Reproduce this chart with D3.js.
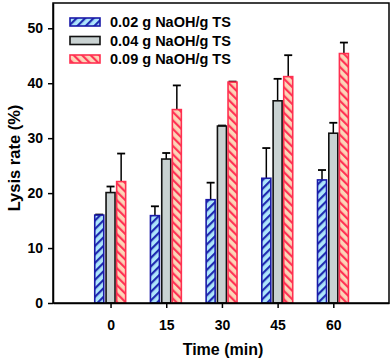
<!DOCTYPE html>
<html>
<head>
<meta charset="utf-8">
<script src="https://cdn.jsdelivr.net/npm/d3@7"></script>
<style>
  body { margin: 0; background: #fff; }
  svg text { font-family: Arial, "Liberation Sans", sans-serif; font-weight: bold; }
</style>
</head>
<body>
<svg id="chart"></svg>
<script>
// data
const times = [0, 15, 30, 45, 60];
const seriesNames = ["0.02 g NaOH/g TS", "0.04 g NaOH/g TS", "0.09 g NaOH/g TS"];
const low = [16.0, 15.9, 18.8, 22.7, 22.4];
const lowErr = [0.1, 1.7, 3.1, 5.5, 1.8];
const mid = [20.1, 26.2, 32.2, 36.8, 30.9];
const midErr = [1.1, 1.1, 0.1, 4.0, 1.9];
const high = [22.1, 35.2, 40.2, 41.2, 45.4];
const highErr = [5.1, 4.4, 0.1, 3.9, 2.0];
const yTicks = [0, 10, 20, 30, 40, 50];

let width = 392, height = 362;
let padding = { top: 3, right: 3, bottom: 59, left: 53 };

let svg = d3.select("#chart")
    .attr("width", width)
    .attr("height", height);

let defs = svg.append("defs");

// striped fills
let pBlue = defs.append("pattern")
    .attr("id", "hatchBlue")
    .attr("patternUnits", "userSpaceOnUse")
    .attr("width", 6).attr("height", 6)
    .attr("patternTransform", "rotate(45)");
pBlue.append("rect").attr("width", 6).attr("height", 6).attr("fill", "#aee6fb");
pBlue.append("rect").attr("width", 2.2).attr("height", 6).attr("fill", "#1f2bb0");

let pRed = defs.append("pattern")
    .attr("id", "hatchRed")
    .attr("patternUnits", "userSpaceOnUse")
    .attr("width", 6).attr("height", 6)
    .attr("patternTransform", "rotate(-45)");
pRed.append("rect").attr("width", 6).attr("height", 6).attr("fill", "#fcd6b8");
pRed.append("rect").attr("width", 2.2).attr("height", 6).attr("fill", "#ff3355");

let styles = [
    { fill: "url(#hatchBlue)", stroke: "#1a1aa8" },
    { fill: "#c9d2d2", stroke: "#111" },
    { fill: "url(#hatchRed)", stroke: "#ff3050" }
];

let xScale = d3.scaleLinear()
    .domain([-15.5, 75])
    .range([padding.left, width - padding.right]);
let yScale = d3.scaleLinear()
    .domain([0, 54.6])
    .range([height - padding.bottom, padding.top]);

let barWidth = 9;
let offsets = [-11.3, 0, 10.6];

let data = [];
times.forEach((t, i) => {
    data.push({ t: t, s: 0, v: low[i], e: lowErr[i] });
    data.push({ t: t, s: 1, v: mid[i], e: midErr[i] });
    data.push({ t: t, s: 2, v: high[i], e: highErr[i] });
});

// error bars (drawn first, bar covers the lower part)
let eb = svg.append("g");
data.forEach(d => {
    let cx = xScale(d.t) + offsets[d.s];
    eb.append("line")
        .attr("x1", cx).attr("x2", cx)
        .attr("y1", yScale(d.v)).attr("y2", yScale(d.v + d.e))
        .attr("stroke", "#000").attr("stroke-width", 1.5);
    eb.append("line")
        .attr("x1", cx - 4).attr("x2", cx + 4)
        .attr("y1", yScale(d.v + d.e)).attr("y2", yScale(d.v + d.e))
        .attr("stroke", "#000").attr("stroke-width", 1.8);
});

svg.append("g")
    .selectAll("rect")
    .data(data)
    .enter()
    .append("rect")
      .attr("x", d => xScale(d.t) + offsets[d.s] - barWidth / 2)
      .attr("y", d => yScale(d.v))
      .attr("width", barWidth)
      .attr("height", d => yScale(0) - yScale(d.v))
      .attr("fill", d => styles[d.s].fill)
      .attr("stroke", d => styles[d.s].stroke)
      .attr("stroke-width", 1.6);

// frame
svg.append("rect")
    .attr("x", padding.left)
    .attr("y", padding.top)
    .attr("width", width - padding.left - padding.right)
    .attr("height", height - padding.top - padding.bottom)
    .attr("fill", "none")
    .attr("stroke", "#000")
    .attr("stroke-width", 1.5);

let xAxis = d3.axisBottom(xScale)
    .tickValues(times)
    .tickSize(5)
    .tickSizeOuter(0)
    .tickPadding(12);
svg.append("g")
    .classed("x-axis", true)
    .attr("transform", "translate(0," + (height - padding.bottom) + ")")
    .call(xAxis);

let yAxis = d3.axisLeft(yScale)
    .tickValues(yTicks)
    .tickSize(5)
    .tickSizeOuter(0)
    .tickPadding(5);
svg.append("g")
    .classed("y-axis", true)
    .attr("transform", "translate(" + padding.left + ",0)")
    .call(yAxis);

svg.selectAll(".x-axis .domain, .y-axis .domain")
    .attr("stroke-width", 1.5);
svg.selectAll(".tick line")
    .attr("stroke-width", 1.5);
svg.selectAll(".tick text")
    .style("font-size", "14px")
    .attr("fill", "#000");

svg.append("text")
    .attr("x", (padding.left + width - padding.right) / 2 + 2)
    .attr("y", 355)
    .style("text-anchor", "middle")
    .style("font-size", "16px")
    .text("Time (min)");

svg.append("text")
    .attr("transform", "rotate(-90)")
    .attr("x", -158)
    .attr("y", 20)
    .style("text-anchor", "middle")
    .style("font-size", "16.5px")
    .text("Lysis rate (%)");

// legend
let legend = svg.append("g");
seriesNames.forEach((name, i) => {
    let y = 18 + i * 18.5;
    legend.append("rect")
        .attr("x", 70).attr("y", y)
        .attr("width", 30).attr("height", 8)
        .attr("fill", styles[i].fill)
        .attr("stroke", styles[i].stroke)
        .attr("stroke-width", 1.6);
    legend.append("text")
        .attr("x", 110).attr("y", y + 9)
        .style("font-size", "14.5px")
        .text(name);
});
</script>
</body>
</html>
